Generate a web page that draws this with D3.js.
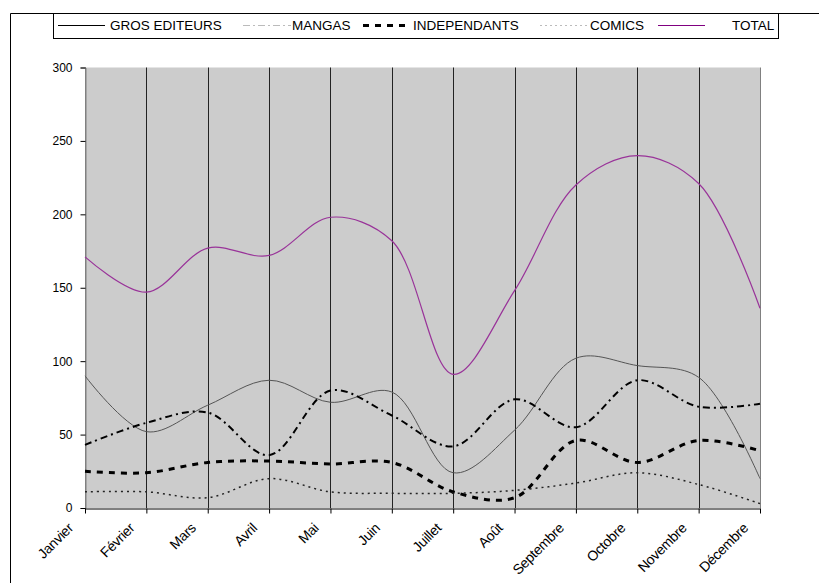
<!DOCTYPE html>
<html>
<head>
<meta charset="utf-8">
<script src="https://cdn.jsdelivr.net/npm/d3@7"></script>
<style>
  body { margin: 0; background: #fff; }
  text { font-family: "Liberation Sans", Arial, sans-serif; }
</style>
</head>
<body>
<svg id="canvas"></svg>
<script>
var months = ["Janvier", "Février", "Mars", "Avril", "Mai", "Juin", "Juillet", "Août", "Septembre", "Octobre", "Novembre", "Décembre"];
var yTicks = [0, 50, 100, 150, 200, 250, 300];

var grosEditeurs = [90, 52, 70, 87, 72, 79, 24, 53, 102, 97, 89, 20];
var mangas = [43, 58, 65, 36, 80, 63, 42, 74, 55, 87, 69, 71];
var independants = [25, 24, 31, 32, 30, 31, 11, 7, 46, 31, 46, 39];
var comics = [11, 11, 7, 20, 11, 10, 10, 12, 17, 24, 16, 3];
var total = [171, 147, 177, 172, 198, 182, 91, 148, 220, 240, 221, 136];

var seriesNames = ["GROS EDITEURS", "MANGAS", "INDEPENDANTS", "COMICS", "TOTAL"];

document.addEventListener("DOMContentLoaded", () => {
  var width = 819, height = 583;
  var svg = d3.select("#canvas").attr("width", width).attr("height", height);

  var left = 85, right = 760, top = 67.5, bottom = 508;

  var x = d3.scalePoint().domain(months).range([left, right]);
  var y = d3.scaleLinear().domain([0, 300]).range([bottom, top]);

  // outer frame (only top and left visible)
  svg.append("path")
    .attr("d", "M10.5,583 V13.5 H819")
    .attr("fill", "none").attr("stroke", "#000").attr("stroke-width", 1);

  // plot area
  svg.append("rect")
    .attr("x", left).attr("y", top)
    .attr("width", right - left).attr("height", bottom - top)
    .attr("fill", "#cccccc");

  // vertical grid lines
  svg.append("g").selectAll("line").data(months).join("line")
    .attr("x1", d => Math.round(x(d)) + 0.5).attr("x2", d => Math.round(x(d)) + 0.5)
    .attr("y1", top).attr("y2", bottom)
    .attr("stroke", d => (d === months[0] || d === months[11]) ? "#808080" : "#222")
    .attr("stroke-width", 1);

  // y axis
  var yAxis = svg.append("g").attr("transform", "translate(" + (left + 0.5) + ",0)")
    .call(d3.axisLeft(y).tickValues(yTicks).tickSize(5).tickPadding(8));
  yAxis.select(".domain").attr("stroke", "#808080");
  yAxis.selectAll("text").style("font-size", "12px").attr("fill", "#000")
    .style("font-family", "'Liberation Sans', Arial, sans-serif");

  // x axis
  var xAxis = svg.append("g").attr("transform", "translate(0," + (bottom + 0.5) + ")")
    .call(d3.axisBottom(x).tickSize(5).tickSizeOuter(0).tickFormat(""));
  xAxis.select(".domain").attr("stroke", "#000");

  svg.append("g").selectAll("text").data(months).join("text")
    .attr("transform", d => "translate(" + (x(d) - 11) + "," + (bottom + 21) + ") rotate(-45)")
    .attr("text-anchor", "end")
    .style("font-size", "14px")
    .style("letter-spacing", "-0.3px")
    .text(d => d);

  var styles = [
    { values: grosEditeurs, stroke: "#555", width: 1, dash: null },
    { values: mangas, stroke: "#000", width: 2, dash: "7,4,2,4" },
    { values: independants, stroke: "#000", width: 3, dash: "6,6" },
    { values: comics, stroke: "#222", width: 1.5, dash: "2,4" },
    { values: total, stroke: "#993399", width: 1.2, dash: null }
  ];

  var line = d3.line()
    .x((d, i) => x(months[i]))
    .y(d => y(d))
    .curve(d3.curveCatmullRom.alpha(0.5));

  svg.append("g").selectAll("path").data(styles).join("path")
    .attr("d", d => line(d.values))
    .attr("fill", "none")
    .attr("stroke", d => d.stroke)
    .attr("stroke-width", d => d.width)
    .attr("stroke-dasharray", d => d.dash);

  // legend
  var legend = svg.append("g");
  legend.append("rect")
    .attr("x", 53.5).attr("y", 13.5).attr("width", 725).attr("height", 25)
    .attr("fill", "#fff").attr("stroke", "#000").attr("stroke-width", 1);

  var legendItems = [
    { x1: 58, x2: 105, tx: 110 },
    { x1: 243, x2: 291, tx: 292 },
    { x1: 363, x2: 411, tx: 413 },
    { x1: 540, x2: 588, tx: 590 },
    { x1: 658, x2: 705, tx: 732 }
  ];
  var legendStyles = [
    { stroke: "#000", width: 1, dash: null },
    { stroke: "#bbb", width: 1, dash: "7,3,2,3" },
    { stroke: "#000", width: 3, dash: "6,6" },
    { stroke: "#bbb", width: 1, dash: "2,3" },
    { stroke: "#800080", width: 1, dash: null }
  ];
  var items = legend.selectAll("g").data(legendItems).join("g");
  items.append("line")
    .attr("x1", d => d.x1).attr("x2", d => d.x2)
    .attr("y1", 25.5).attr("y2", 25.5)
    .attr("stroke", (d, i) => legendStyles[i].stroke)
    .attr("stroke-width", (d, i) => legendStyles[i].width)
    .attr("stroke-dasharray", (d, i) => legendStyles[i].dash);
  items.append("text")
    .attr("x", d => d.tx).attr("y", 30)
    .style("font-size", "13.5px")
    .text((d, i) => seriesNames[i]);
});
</script>
</body>
</html>
